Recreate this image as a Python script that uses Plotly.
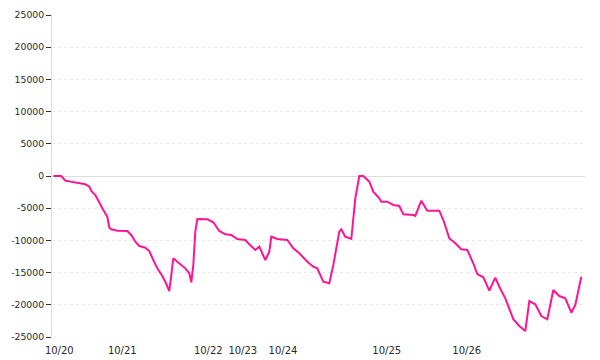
import plotly.graph_objects as go

# time-step index of each vertex and cumulative value
steps = [0, 4, 6, 8, 10, 13, 16, 18, 19, 21, 23, 25, 27, 28, 29, 32, 37, 39, 41, 43,
         46, 48, 50, 52, 54, 56, 58, 59, 60, 62, 66, 68, 69, 70, 71, 72, 77, 80, 82, 83,
         86, 89, 92, 96, 98, 101, 103, 106, 108, 109, 112, 117, 120, 123, 127, 130, 132, 135, 138, 140,
         143, 144, 146, 149, 151, 153, 155, 158, 160, 163, 164, 167, 170, 173, 175, 180, 181, 184, 187, 193,
         195, 198, 201, 204, 207, 209, 210, 212, 215, 218, 221, 223, 226, 230, 233, 236, 238, 241, 244, 247,
         250, 253, 256, 259, 261, 264]
values = [0, 0, -730, -820, -980, -1040, -1290, -1660, -2330, -2950, -4240, -5280, -6320, -8030, -8280, -8500, -8540, -9160, -10200, -10870,
          -11130, -11650, -13050, -14340, -15270, -16420, -17860, -15370, -12780, -13310, -14340, -15110, -16510, -13820, -8650, -6680, -6720, -7190, -8030, -8540,
          -9050, -9160, -9780, -9940, -10610, -11490, -10980, -13050, -11760, -9430, -9780, -9940, -11230, -12000, -13310, -14090, -14340, -16420, -16660, -13820,
          -8650, -8280, -9430, -9780, -3470, 0, 0, -880, -2440, -3460, -3990, -3990, -4500, -4660, -5950, -6060, -6210, -3840, -5390, -5390,
          -6830, -9670, -10450, -11380, -11490, -12730, -13560, -15220, -15730, -17810, -15790, -17190, -18990, -22250, -23290, -24070, -19410, -19930, -21740, -22250,
          -17700, -18640, -18990, -21230, -20030, -15640]

date_ticks = [3, 34.5, 77.5, 94.75, 114.85, 166.7, 206.7]
date_labels = ["10/20", "10/21", "10/22", "10/23", "10/24", "10/25", "10/26"]

y_ticks = [-25000, -20000, -15000, -10000, -5000, 0, 5000, 10000, 15000, 20000, 25000]
y_labels = ["-25000", "-20000", "-15000", "-10000", "-5000", "0", "5000", "10000", "15000", "20000", "25000"]

fig = go.Figure()
fig.add_trace(go.Scatter(
    x=steps, y=values, mode="lines",
    line=dict(color="#ff1493", width=2),
    hoverinfo="skip", showlegend=False,
))

yfont = dict(family="DejaVu Sans", size=9.3, color="#2a2a2a")
xfont = dict(family="DejaVu Sans", size=10, color="#2a2a2a")

fig.update_layout(
    width=600, height=360,
    margin=dict(l=52, r=15, t=15, b=23),
    paper_bgcolor="white", plot_bgcolor="white",
    font=yfont,
    showlegend=False,
    xaxis=dict(
        range=[-0.65, 265.85],
        tickmode="array", tickvals=date_ticks, ticktext=date_labels,
        showgrid=False, zeroline=False, showline=False, ticks="",
        ticklabelstandoff=6, automargin=False,
        tickfont=xfont,
    ),
    yaxis=dict(
        range=[-25000, 25000],
        tickmode="array", tickvals=y_ticks, ticktext=y_labels,
        showgrid=True, gridcolor="#e8e8e8", griddash="3px,3px", gridwidth=1,
        zeroline=True, zerolinecolor="#dddddd", zerolinewidth=1,
        showline=True, linecolor="#dddddd", linewidth=1,
        ticks="outside", ticklen=5, tickcolor="#333333", tickwidth=1,
        automargin=False,
        tickfont=yfont,
    ),
)

fig.write_html("out.html")
